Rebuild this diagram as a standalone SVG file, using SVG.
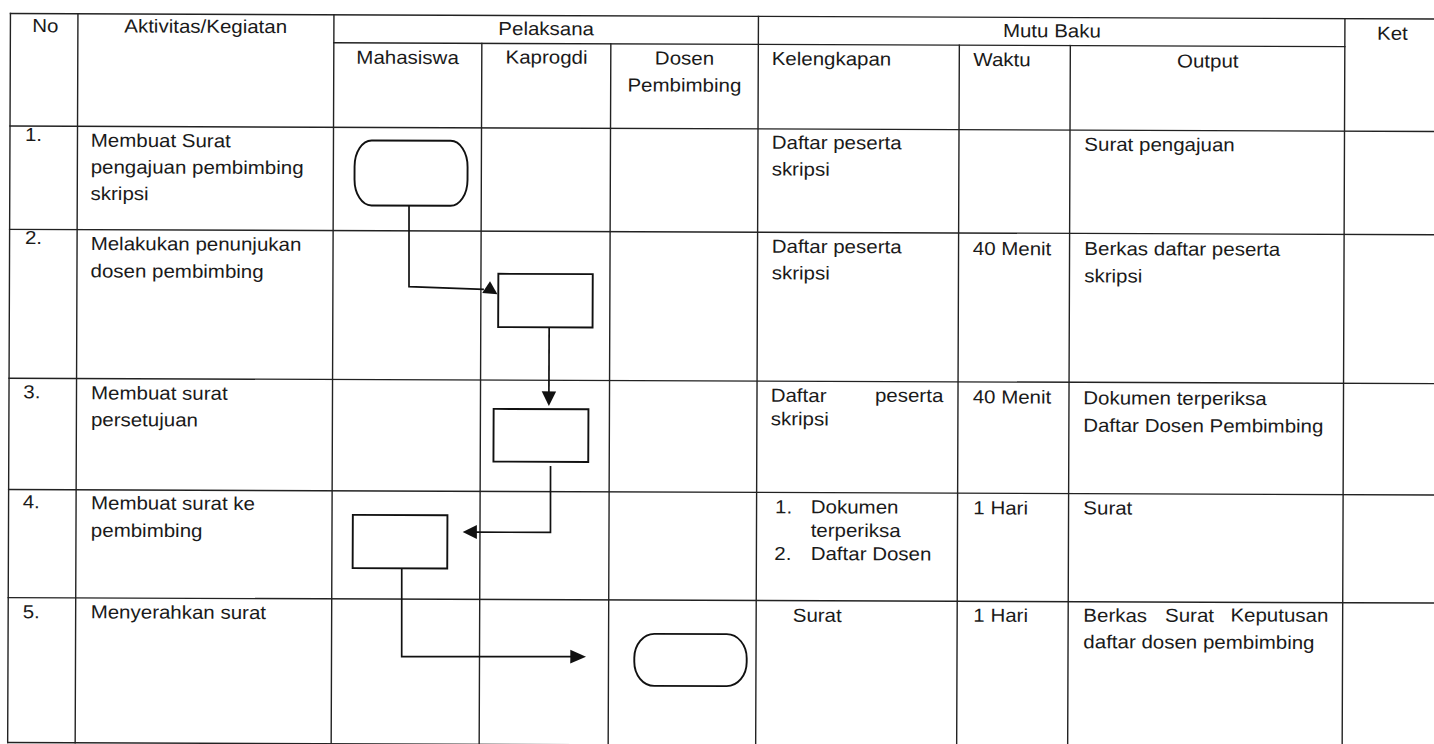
<svg xmlns="http://www.w3.org/2000/svg" width="1434" height="744" viewBox="0 0 1434 744">
<style>
.g{stroke:#222;stroke-width:1.4;fill:none;stroke-linecap:square}
.s{stroke:#111;stroke-width:1.9;fill:#fff}
.c{stroke:#111;stroke-width:1.7;fill:none}
.a{fill:#111;stroke:none}
text{font-family:"Liberation Sans",Arial,Helvetica,sans-serif;font-size:18.8px;fill:#1a1a1a}
.m{text-anchor:middle}
.e{text-anchor:end}
</style>
<rect x="0" y="0" width="1434" height="744" fill="#fff"/>
<g transform="rotate(0.218)">
<g id="grid">
<path class="g" d="M10.5 13.5H1440M334 41.5H1345M10.5 126H1440M10.5 229.3H1440M10.5 378.2H1440M10.5 489.5H1440M10.5 597.6H1440M10.5 742.5H1440"/>
<path class="g" d="M10.5 13.5V742.5M78 13.5V742.5M334 13.5V742.5M482 41.5V742.5M611 41.5V742.5M758.5 13.5V742.5M959.5 41.5V742.5M1070.5 41.5V742.5M1345 13.5V742.5"/>
</g>
<g id="header">
<text class="m" transform="translate(45.5,32) scale(1.09,1)">No</text>
<text class="m" transform="translate(205.8,32) scale(1.09,1)">Aktivitas/Kegiatan</text>
<text class="m" transform="translate(546.3,33) scale(1.09,1)">Pelaksana</text>
<text class="m" transform="translate(1052,33.3) scale(1.09,1)">Mutu Baku</text>
<text class="m" transform="translate(1392.5,34.5) scale(1.09,1)">Ket</text>
<text class="m" transform="translate(407.8,62.3) scale(1.09,1)">Mahasiswa</text>
<text class="m" transform="translate(546.8,61.5) scale(1.09,1)">Kaprogdi</text>
<text class="m" transform="translate(684.7,62) scale(1.09,1)">Dosen<tspan x="0" dy="27">Pembimbing</tspan></text>
<text transform="translate(771.9,62.1) scale(1.09,1)">Kelengkapan</text>
<text transform="translate(973.6,62.3) scale(1.09,1)">Waktu</text>
<text class="m" transform="translate(1208,62.9) scale(1.09,1)">Output</text>
</g>
<g id="row1">
<text transform="translate(25.5,140.8) scale(1.09,1)">1.</text>
<text transform="translate(91.3,146.4) scale(1.09,1)">Membuat Surat<tspan x="0" dy="26.6">pengajuan pembimbing</tspan><tspan x="0" dy="26.6">skripsi</tspan></text>
<text transform="translate(772.3,145.9) scale(1.09,1)">Daftar peserta<tspan x="0" dy="26.7">skripsi</tspan></text>
<text transform="translate(1084.9,146.6) scale(1.09,1)">Surat pengajuan</text>
</g>
<g id="row2">
<text transform="translate(25.9,243.9) scale(1.09,1)">2.</text>
<text transform="translate(91.6,249.7) scale(1.09,1)">Melakukan penunjukan<tspan x="0" dy="27.3">dosen pembimbing</tspan></text>
<text transform="translate(772.7,249.8) scale(1.09,1)">Daftar peserta<tspan x="0" dy="26.6">skripsi</tspan></text>
<text transform="translate(973.7,251.3) scale(1.09,1)">40 Menit</text>
<text transform="translate(1085.3,250.9) scale(1.09,1)">Berkas daftar peserta<tspan x="0" dy="27.3">skripsi</tspan></text>
</g>
<g id="row3">
<text transform="translate(24.8,398.2) scale(1.09,1)">3.</text>
<text transform="translate(92.5,399) scale(1.09,1)">Membuat surat<tspan x="0" dy="26.7">persetujuan</tspan></text>
<text transform="translate(772.2,398.8) scale(1.09,1)">Daftar</text>
<text class="e" transform="translate(944.8,398.4) scale(1.09,1)">peserta</text>
<text transform="translate(772.3,422.3) scale(1.09,1)">skripsi</text>
<text transform="translate(974.2,399.6) scale(1.09,1)">40 Menit</text>
<text transform="translate(1084.8,400.2) scale(1.09,1)">Dokumen terperiksa<tspan x="0" dy="27.4">Daftar Dosen Pembimbing</tspan></text>
</g>
<g id="row4">
<text transform="translate(24.6,508.2) scale(1.09,1)">4.</text>
<text transform="translate(92.9,509) scale(1.09,1)">Membuat surat ke<tspan x="0" dy="27.4">pembimbing</tspan></text>
<text transform="translate(777,510.4) scale(1.09,1)">1.</text>
<text transform="translate(812.7,510.2) scale(1.09,1)">Dokumen<tspan x="0" dy="23.4">terperiksa</tspan></text>
<text transform="translate(776.4,557.1) scale(1.09,1)">2.</text>
<text transform="translate(812.8,556.9) scale(1.09,1)">Daftar Dosen</text>
<text transform="translate(975.3,510.6) scale(1.09,1)">1 Hari</text>
<text transform="translate(1085.3,510.2) scale(1.09,1)">Surat</text>
</g>
<g id="row5">
<text transform="translate(25,618.2) scale(1.09,1)">5.</text>
<text transform="translate(93,618) scale(1.09,1)">Menyerahkan surat</text>
<text transform="translate(795.1,618.7) scale(1.09,1)">Surat</text>
<text transform="translate(975.7,618) scale(1.09,1)">1 Hari</text>
<text transform="translate(1085.7,617.6) scale(1.09,1)">Berkas</text>
<text transform="translate(1167.4,617.3) scale(1.09,1)">Surat</text>
<text class="e" transform="translate(1330.7,616.8) scale(1.09,1)">Keputusan</text>
<text transform="translate(1085.8,644) scale(1.09,1)">daftar dosen pembimbing</text>
</g>
<g id="connectors">
<path class="c" d="M409.8 204.1L410.1 285.1L485 287.6"/>
<polygon class="a" points="483.3,291.2 491.1,279.5 498.6,292.4"/>
<path class="c" d="M550.4 325.2V391"/>
<polygon class="a" points="550.4,404 543.2,389.3 557.6,389.3"/>
<path class="c" d="M552.3 463.9L552.5 530.2L477 530.4"/>
<polygon class="a" points="464.7,530.2 478.9,523.3 478.9,537.1"/>
<path class="c" d="M403.9 566.8L404.2 655L574 654.5"/>
<polygon class="a" points="588.5,654.4 572.8,647.5 572.8,661.3"/>
</g>
<g id="node-start"><rect class="s" x="355.2" y="139.1" width="113" height="65" rx="17" ry="26"/></g>
<g id="node-penunjukan"><rect class="s" x="499.4" y="271.9" width="94.4" height="53.3"/></g>
<g id="node-persetujuan"><rect class="s" x="495.2" y="407" width="94.8" height="52.7"/></g>
<g id="node-surat-ke-pembimbing"><rect class="s" x="354.8" y="513.5" width="94.6" height="53.3"/></g>
<g id="node-end"><rect class="s" x="636.8" y="631.4" width="112.4" height="52" rx="20" ry="24"/></g>
</g>
</svg>
